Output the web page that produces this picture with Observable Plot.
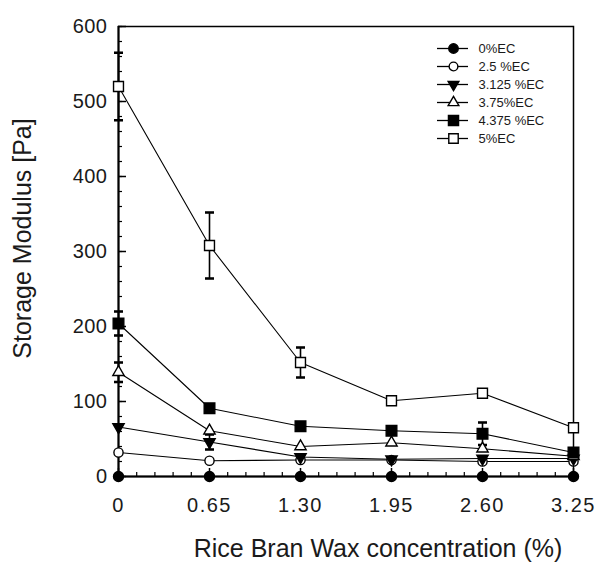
<!DOCTYPE html>
<html>
<head>
<meta charset="utf-8">
<script src="https://cdn.jsdelivr.net/npm/d3@7"></script>
<script src="https://cdn.jsdelivr.net/npm/@observablehq/plot@0.6"></script>
<style>
  html, body { margin: 0; padding: 0; background: #fff; }
  #wrap { position: relative; width: 597px; height: 568px; overflow: hidden; }
  #legend { position: absolute; left: 430px; top: 36px; }
  svg text { font-family: "Liberation Sans", Arial, sans-serif; }
  g[aria-label="x-axis tick label"] text { letter-spacing: 1.5px; }
  g[aria-label="y-axis tick label"] text { letter-spacing: 0.5px; }
  g[aria-label="ytitle"] text { letter-spacing: 0.5px; }
  g[aria-label="xtitle"] text { letter-spacing: 2px; }
  g[aria-label="legendtext"] text { letter-spacing: 0.7px; }
</style>
</head>
<body>
<div id="wrap"><div id="chart"></div><div id="legend"></div></div>
<script>
// ---- data ----
const concentrations = [0, 0.65, 1.30, 1.95, 2.60, 3.25];
const xTickLabels = ["0", "0.65", "1.30", "1.95", "2.60", "3.25"];
const yMajorTicks = [0, 100, 200, 300, 400, 500, 600];
const yMinorTicks = d3.range(0, 601, 20);
const xMinorTicks = d3.range(0, 26).map(i => +(i * 0.13).toFixed(2));

const seriesNames = ["0%EC", "2.5 %EC", "3.125 %EC", "3.75%EC", "4.375 %EC", "5%EC"];
const ec0    = [0, 0, 0, 0, 0, 0];
const ec25   = [32, 21, 22, 22, 20, 20];
const ec3125 = [66, 46, 26, 23, 24, 24];
const ec375  = [139, 61, 40, 45, 37, 27];
const ec4375 = [204, 91, 67, 61, 57, 32];
const ec5    = [520, 308, 152, 101, 111, 65];
// half-widths of error bars (null = none)
const err0    = [null, null, null, null, null, null];
const err25   = [null, null, null, null, null, null];
const err3125 = [null, 10, null, null, null, null];
const err375  = [13, null, null, null, null, null];
const err4375 = [16, null, null, null, 15, null];
const err5    = [45, 44, 20, null, null, null];

// ---- styles ----
const triangleDown = {
  draw(context, size) {
    const y = -Math.sqrt(size / (Math.sqrt(3) * 3));
    context.moveTo(0, -y * 2);
    context.lineTo(-Math.sqrt(3) * y, y);
    context.lineTo(Math.sqrt(3) * y, y);
    context.closePath();
  }
};
const styles = [
  {symbol: "circle",   fill: "black", r: 5},
  {symbol: "circle",   fill: "white", r: 4.6},
  {symbol: triangleDown, fill: "black", r: 4.2},
  {symbol: "triangle", fill: "white", r: 4.2},
  {symbol: "square",   fill: "black", r: 6},
  {symbol: "square",   fill: "white", r: 5.6}
];
const allValues = [ec0, ec25, ec3125, ec375, ec4375, ec5];
const allErrors = [err0, err25, err3125, err375, err4375, err5];

const series = seriesNames.map((name, s) => concentrations.map((x, i) => ({
  name, x, y: allValues[s][i], e: allErrors[s][i]
})));

const W = 597, H = 568;
const mL = 118, mR = 24, mT = 26, mB = 92;
const frameW = W - mL - mR, frameH = H - mT - mB;
const font = "'Liberation Sans', Arial, sans-serif";

const marks = [];
// ticks (inward)
marks.push(Plot.tickY(yMinorTicks, {y: d => d, insetRight: frameW - 4, stroke: "black", strokeWidth: 1.2}));
marks.push(Plot.tickY(yMajorTicks, {y: d => d, insetRight: frameW - 8, stroke: "black", strokeWidth: 1.5}));
marks.push(Plot.tickX(xMinorTicks, {x: d => d, insetTop: frameH - 4, stroke: "black", strokeWidth: 1.2}));
marks.push(Plot.tickX(concentrations, {x: d => d, insetTop: frameH - 8, stroke: "black", strokeWidth: 1.5}));
// frame & axis lines
marks.push(Plot.frame({stroke: "black", strokeWidth: 1.5}));
marks.push(Plot.ruleX([0], {stroke: "black", strokeWidth: 2}));
marks.push(Plot.ruleY([0], {stroke: "black", strokeWidth: 2}));
// tick labels
marks.push(Plot.axisY(yMajorTicks, {tickSize: 0, tickPadding: 11, fontSize: 20, fill: "#1a1a1a", label: null,
  fontFamily: font}));
marks.push(Plot.axisX(concentrations, {tickSize: 0, tickPadding: 21, fontSize: 20, fill: "#1a1a1a", label: null,
  fontFamily: font,
  tickFormat: d => xTickLabels[concentrations.indexOf(d)]}));
// lines
series.forEach(data => {
  marks.push(Plot.line(data, {x: "x", y: "y", stroke: "black", strokeWidth: 1.1}));
});
// error bars
series.forEach(data => {
  const withErr = data.filter(d => d.e != null);
  marks.push(Plot.link(withErr, {x1: "x", x2: "x", y1: d => d.y - d.e, y2: d => d.y + d.e,
    stroke: "black", strokeWidth: 1.6, marker: "tick"}));
});
// markers
series.forEach((data, s) => {
  const st = styles[s];
  marks.push(Plot.dot(data, {x: "x", y: "y", symbol: st.symbol, r: st.r, fill: st.fill,
    stroke: "black", strokeWidth: 1.4}));
});
// axis titles
marks.push(Plot.text(["Storage Modulus [Pa]"], {frameAnchor: "left", dx: -96, dy: -13, rotate: -90,
  textAnchor: "middle", lineAnchor: "middle", ariaLabel: "ytitle", fontFamily: font,
  fontSize: 25, fill: "#1a1a1a", text: d => d}));
marks.push(Plot.text(["Rice Bran Wax concentration (%)"], {frameAnchor: "bottom", dx: 32, dy: 72,
  textAnchor: "middle", lineAnchor: "middle", ariaLabel: "xtitle", fontFamily: font,
  fontSize: 25, fill: "#1a1a1a", text: d => d}));

const chart = Plot.plot({
  width: W, height: H,
  marginLeft: mL, marginRight: mR, marginTop: mT, marginBottom: mB,
  style: {fontFamily: font, background: "white", overflow: "visible"},
  x: {domain: [0, 3.25], axis: null},
  y: {domain: [0, 600], axis: null},
  marks
});
document.getElementById("chart").appendChild(chart);

// ---- legend ----
const legendRows = seriesNames.map((name, s) => ({name, s}));
const legendMarks = [
  Plot.tickY(legendRows, {y: "name", insetRight: 133 - 31, stroke: "black", strokeWidth: 1.3})
];
legendRows.forEach(row => {
  const st = styles[row.s];
  legendMarks.push(Plot.dot([row], {y: "name", frameAnchor: "left", dx: 16, symbol: st.symbol,
    r: st.r * 0.95, fill: st.fill, stroke: "black", strokeWidth: 1.4}));
});
legendMarks.push(Plot.text(legendRows, {y: "name", frameAnchor: "left", dx: 41, text: "name",
  textAnchor: "start", fontSize: 13, fill: "#1a1a1a", ariaLabel: "legendtext", fontFamily: font}));

const legend = Plot.plot({
  width: 140, height: 115,
  marginLeft: 7, marginRight: 0, marginTop: 10.7, marginBottom: 115 - 103,
  style: {fontFamily: font, background: "transparent", overflow: "visible"},
  x: {domain: [0, 1], axis: null},
  y: {domain: seriesNames, type: "point", padding: 0, axis: null},
  marks: legendMarks
});
document.getElementById("legend").appendChild(legend);
</script>
</body>
</html>
